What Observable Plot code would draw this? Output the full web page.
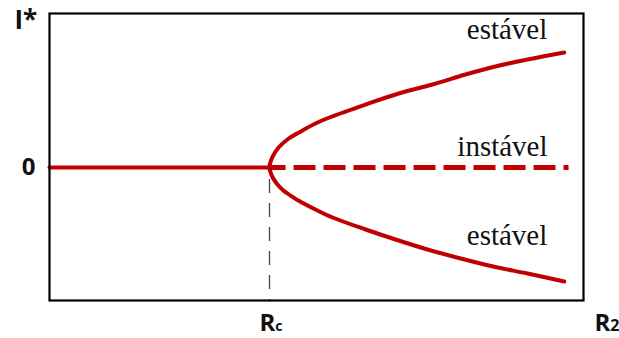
<!DOCTYPE html>
<html>
<head>
<meta charset="utf-8">
<script src="https://cdn.jsdelivr.net/npm/d3@7"></script>
<script src="https://cdn.jsdelivr.net/npm/@observablehq/plot@0.6"></script>
<style>
  html, body { margin: 0; padding: 0; background: #fff; }
</style>
</head>
<body>
<div id="chart"></div>
<script>
// Critical value of R2 (bifurcation point)
const Rc = 4.12;
const xDomain = [0, 10];
const yDomain = [-1.33, 1.54];

// Stable upper branch
const upperX = [4.12, 4.17, 4.29, 4.48, 4.67, 4.98, 5.29, 5.92, 6.54, 7.17, 7.79, 8.31, 8.95, 9.64];
const upperY = [0.00, 0.10, 0.20, 0.29, 0.35, 0.44, 0.51, 0.63, 0.74, 0.83, 0.93, 1.005, 1.08, 1.15];

// Stable lower branch
const lowerX = [4.12, 4.18, 4.27, 4.38, 4.57, 4.66, 4.98, 5.30, 5.92, 6.48, 7.08, 7.70, 8.31, 8.95, 9.64];
const lowerY = [0.00, -0.10, -0.17, -0.23, -0.30, -0.33, -0.42, -0.50, -0.62, -0.72, -0.82, -0.91, -0.99, -1.06, -1.14];

// I* = 0 branch: stable before Rc, unstable after
const zeroStableX = [0, 4.12];
const zeroUnstableX = [4.12, 9.72];

const branchLabels = ["estável", "instável", "estável"];
const yTicks = [0];
const xTicks = [{value: Rc, main: "R", sub: "c"}];
const yAxisLabel = "I*";
const xAxisLabel = {main: "R", sub: "2"};

// Tables built from the arrays
const upper = upperX.map((x, i) => ({x, y: upperY[i]}));
const lower = lowerX.map((x, i) => ({x, y: lowerY[i]}));
const parabola = lower.slice().reverse().concat(upper.slice(1));
const zeroStable = zeroStableX.map(x => ({x, y: 0}));
const zeroUnstable = zeroUnstableX.map(x => ({x, y: 0}));

const red = "#c00000";
const boldFont = "Open Sans, Liberation Sans, sans-serif";
const serifFont = "Liberation Serif, DejaVu Serif, serif";

const chart = Plot.plot({
  width: 619,
  height: 338,
  marginLeft: 49,
  marginRight: 36,
  marginTop: 13,
  marginBottom: 38,
  x: {domain: xDomain, axis: null},
  y: {domain: yDomain, axis: null},
  style: {background: "#fff"},
  marks: [
    Plot.line(zeroStable, {x: "x", y: "y", stroke: red, strokeWidth: 4}),
    Plot.line(zeroUnstable, {x: "x", y: "y", stroke: red, strokeWidth: 5, strokeDasharray: "22,8", strokeDashoffset: 6, strokeLinecap: "butt"}),
    Plot.line(parabola, {x: "x", y: "y", stroke: red, strokeWidth: 4, curve: "catmull-rom"}),
    Plot.ruleX([Rc], {y1: 0, y2: yDomain[0], stroke: "#444", strokeWidth: 1.3, strokeDasharray: "14,10", strokeDashoffset: 12}),
    Plot.frame({stroke: "#000", strokeWidth: 2.2}),
    // axis labels
    Plot.text([yAxisLabel], {frameAnchor: "top-left", text: d => d, textAnchor: "start", lineAnchor: "bottom", dx: -35, dy: 15, fontSize: 26, fontWeight: "bold", fontFamily: boldFont, fill: "#111"}),
    Plot.text(yTicks, {y: d => d, frameAnchor: "left", text: d => String(d), textAnchor: "end", lineAnchor: "middle", dx: -14, fontSize: 24, fontWeight: "bold", fontFamily: boldFont, fill: "#111"}),
    Plot.text(xTicks, {x: "value", frameAnchor: "bottom", text: d => d.main + d.sub, textAnchor: "middle", lineAnchor: "bottom", dx: 1.5, dy: 30, fontSize: 24, fontWeight: "bold", fontFamily: boldFont, fill: "#111", className: "subscripted"}),
    Plot.text([xAxisLabel], {frameAnchor: "bottom-right", text: d => d.main + d.sub, textAnchor: "start", lineAnchor: "bottom", dx: 11, dy: 30, fontSize: 24, fontWeight: "bold", fontFamily: boldFont, fill: "#111", className: "subscripted-2"}),
    // branch labels
    Plot.text([upper[upper.length - 1]], {x: "x", y: "y", text: () => branchLabels[0], textAnchor: "end", lineAnchor: "bottom", dx: -17, dy: -14, fontSize: 29, fontFamily: serifFont, fill: "#111"}),
    Plot.text([zeroUnstable[zeroUnstable.length - 1]], {x: "x", y: "y", text: () => branchLabels[1], textAnchor: "end", lineAnchor: "bottom", dx: -21, dy: -12, fontSize: 29, fontFamily: serifFont, fill: "#111"}),
    Plot.text([lower[lower.length - 1]], {x: "x", y: "y", text: () => branchLabels[2], textAnchor: "end", lineAnchor: "bottom", dx: -17, dy: -37, fontSize: 29, fontFamily: serifFont, fill: "#111"})
  ]
});

// turn the last character of the R labels into a small subscript
function subscript(selector, data, size) {
  d3.select(chart).selectAll(selector + " text").each(function(_, i) {
    const d = data[i];
    const t = d3.select(this);
    t.text(null);
    t.append("tspan").text(d.main);
    t.append("tspan").attr("font-size", size).text(d.sub);
  });
}
subscript(".subscripted", xTicks, 14);
subscript(".subscripted-2", [xAxisLabel], 16);

document.getElementById("chart").appendChild(chart);
</script>
</body>
</html>
